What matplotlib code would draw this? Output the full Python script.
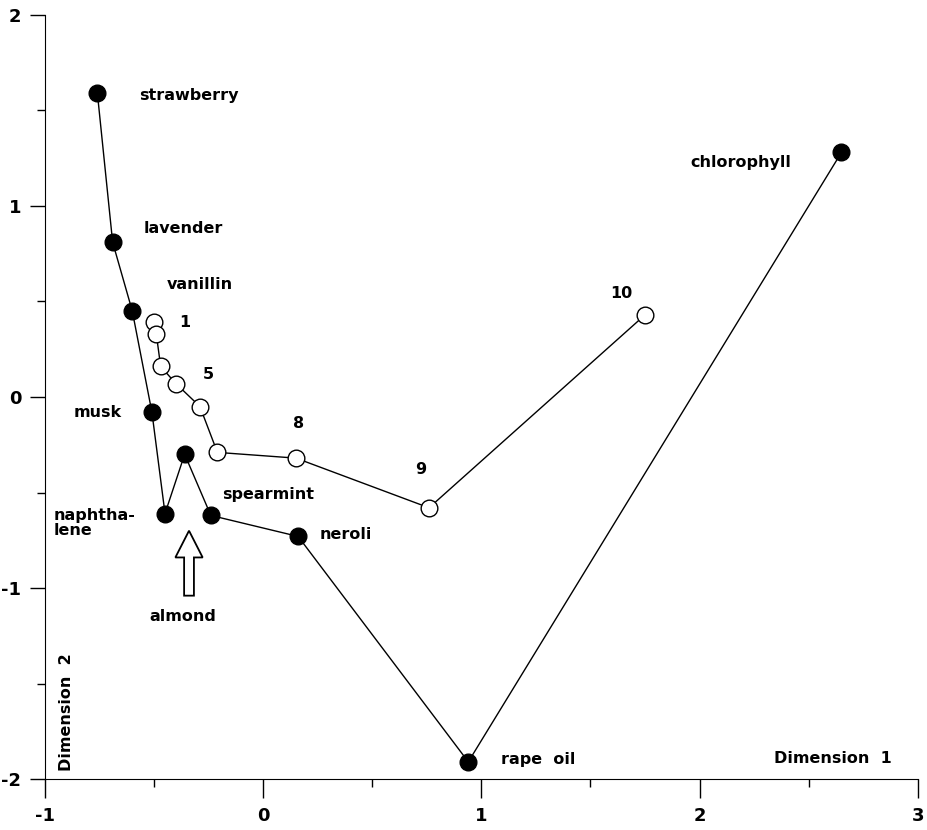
import numpy as np
import matplotlib.pyplot as plt

# odorant chain (filled markers)
odor_x = [-0.76, -0.69, -0.60, -0.51, -0.45, -0.36, -0.24, 0.16, 0.94, 2.65]
odor_y = [1.59, 0.81, 0.45, -0.08, -0.61, -0.30, -0.62, -0.73, -1.91, 1.28]

# numbered chain (open markers), points 1..10
num_x = [-0.50, -0.49, -0.47, -0.40, -0.29, -0.21, 0.15, 0.76, 1.75]
num_y = [0.39, 0.33, 0.16, 0.07, -0.05, -0.29, -0.32, -0.58, 0.43]

# text labels: (text, x, y, ha)
labels = [
    ("strawberry", -0.57, 1.58, "left"),
    ("lavender", -0.55, 0.88, "left"),
    ("vanillin", -0.44, 0.59, "left"),
    ("musk", -0.65, -0.08, "right"),
    ("naphtha-\nlene", -0.96, -0.66, "left"),
    ("spearmint", -0.19, -0.51, "left"),
    ("neroli", 0.26, -0.72, "left"),
    ("almond", -0.37, -1.15, "center"),
    ("chlorophyll", 1.96, 1.23, "left"),
    ("rape  oil", 1.09, -1.90, "left"),
    ("1", -0.36, 0.39, "center"),
    ("5", -0.25, 0.12, "center"),
    ("8", 0.16, -0.14, "center"),
    ("9", 0.72, -0.38, "center"),
    ("10", 1.64, 0.54, "center"),
]

plt.rcParams['font.family'] = ['DejaVu Sans']
plt.rcParams['font.weight'] = 'bold'
plt.rcParams['axes.unicode_minus'] = False

fig = plt.figure(figsize=(9.28, 8.30), dpi=100)
fig.set_facecolor("#ffffff")
ax = fig.add_axes([0.0485, 0.0614, 0.9405, 0.9206])

ax.plot(odor_x, odor_y, color="black", lw=1, marker="o", ms=12,
        mfc="black", mec="black", zorder=3)
ax.plot(num_x, num_y, color="black", lw=1, marker="o", ms=12,
        mfc="white", mec="black", mew=1, zorder=3)

for txt, x, y, ha in labels:
    ax.text(x, y, txt, ha=ha, va="center", fontsize=11.5, fontweight="bold",
            linespacing=1.0)

# hollow arrow pointing at almond
ax.arrow(-0.34, -1.04, 0, 0.34, width=0.045, head_width=0.125,
         head_length=0.14, length_includes_head=True,
         facecolor="white", edgecolor="black", lw=1.3, zorder=4)

ax.text(2.34, -1.89, "Dimension  1", ha="left", va="center", fontsize=11.5,
        fontweight="bold")
ax.text(-0.90, -1.96, "Dimension  2", ha="center", va="bottom", rotation=90,
        fontsize=11.5, fontweight="bold")

ax.set_xlim(-1, 3)
ax.set_ylim(-2, 2)
ax.spines["top"].set_visible(False)
ax.spines["right"].set_visible(False)
ax.set_xticks([-1, 0, 1, 2, 3])
ax.set_yticks([-2, -1, 0, 1, 2])
ax.set_xticks([-0.5, 0.5, 1.5, 2.5], minor=True)
ax.set_yticks([-1.5, -0.5, 0.5, 1.5], minor=True)
ax.tick_params(axis="x", which="major", length=14, width=1, labelsize=13, pad=6)
ax.tick_params(axis="y", which="major", length=11, width=1, labelsize=13, pad=6)
ax.tick_params(which="minor", length=6, width=1)
for lab in ax.get_xticklabels() + ax.get_yticklabels():
    lab.set_fontweight("bold")

plt.savefig("out.png", dpi=100, facecolor="white")
